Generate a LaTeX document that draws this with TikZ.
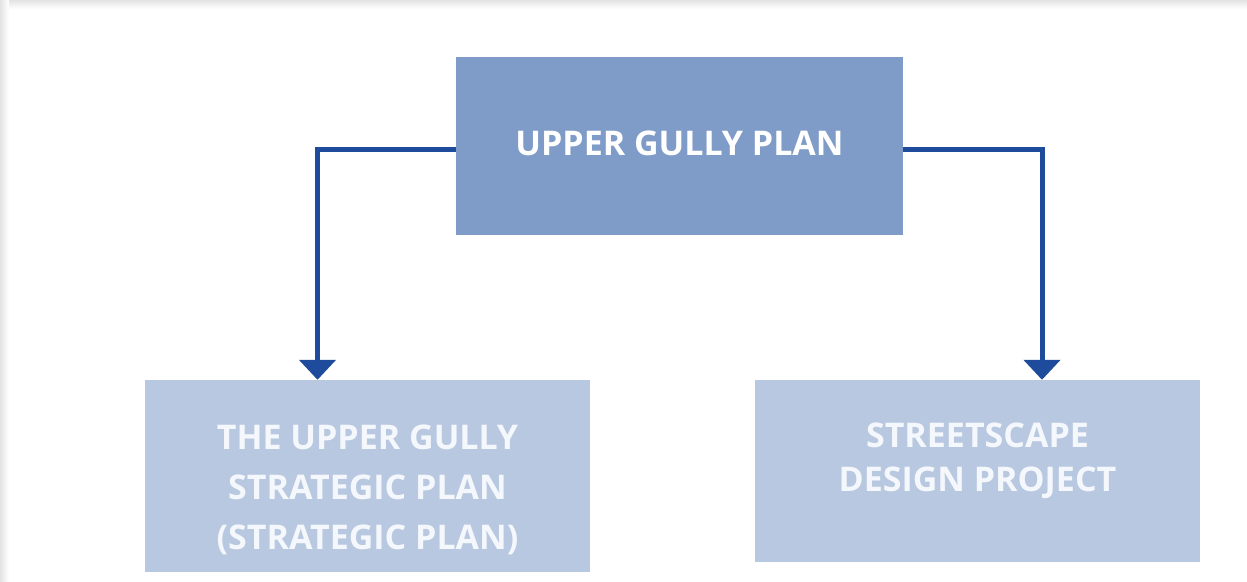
\documentclass[tikz,border=0pt]{standalone}
\usepackage{fontspec}
\setmainfont{Open Sans}
\usepackage{tikz}
\usetikzlibrary{positioning,arrows.meta,calc}

\definecolor{planblue}{HTML}{7F9BC8}
\definecolor{subblue}{HTML}{B8C8E0}
\definecolor{linkblue}{HTML}{1E4B9B}
\definecolor{paletext}{HTML}{F4F7FC}

\begin{document}
\begin{tikzpicture}[x=1pt, y=-1pt,
        planbox/.style={
            rectangle,
            fill=planblue,
            text=white,
            font=\bfseries\fontsize{34}{40}\selectfont,
            inner sep=0pt
        },
        subbox/.style={
            rectangle,
            fill=subblue,
            text=paletext,
            inner sep=0pt,
            minimum width=445pt
        },
        link/.style={
            draw=linkblue,
            line width=5pt,
            -{Triangle[width=36pt,length=20pt]}
        }
    ]
        % page with soft edge shadow
        \useasboundingbox (0,0) rectangle (1247,581);
        \fill[white] (0,0) rectangle (1247,581);
        \shade[top color=gray!22, bottom color=white] (0,0) rectangle (1247,9);
        \shade[left color=gray!22, right color=white] (0,0) rectangle (9,581);

        \node[planbox, minimum width=447pt, minimum height=178pt]
            (plan) at (679.5,146) {\raisebox{-9pt}[0pt][0pt]{UPPER GULLY PLAN}};
        \node[subbox, minimum height=192pt,
              font=\bfseries\fontsize{34}{50}\selectfont]
            (strategic) at (367.5,476) {
            \raisebox{-73pt}[0pt][0pt]{\begin{tabular}[b]{c}
                THE UPPER GULLY \\
                STRATEGIC PLAN \\
                (STRATEGIC PLAN)
            \end{tabular}}};
        \node[subbox, minimum height=182pt,
              font=\bfseries\fontsize{34}{44}\selectfont]
            (streetscape) at (977.5,471) {
            \raisebox{-20pt}[0pt][0pt]{\begin{tabular}[b]{c}
                STREETSCAPE \\
                DESIGN PROJECT
            \end{tabular}}};

        \draw[link] ([yshift=-3pt]plan.west) -| ([xshift=-50pt]strategic.north);
        \draw[link] ([yshift=-3pt]plan.east) -| ([xshift=64.5pt]streetscape.north);
    \end{tikzpicture}
\end{document}
